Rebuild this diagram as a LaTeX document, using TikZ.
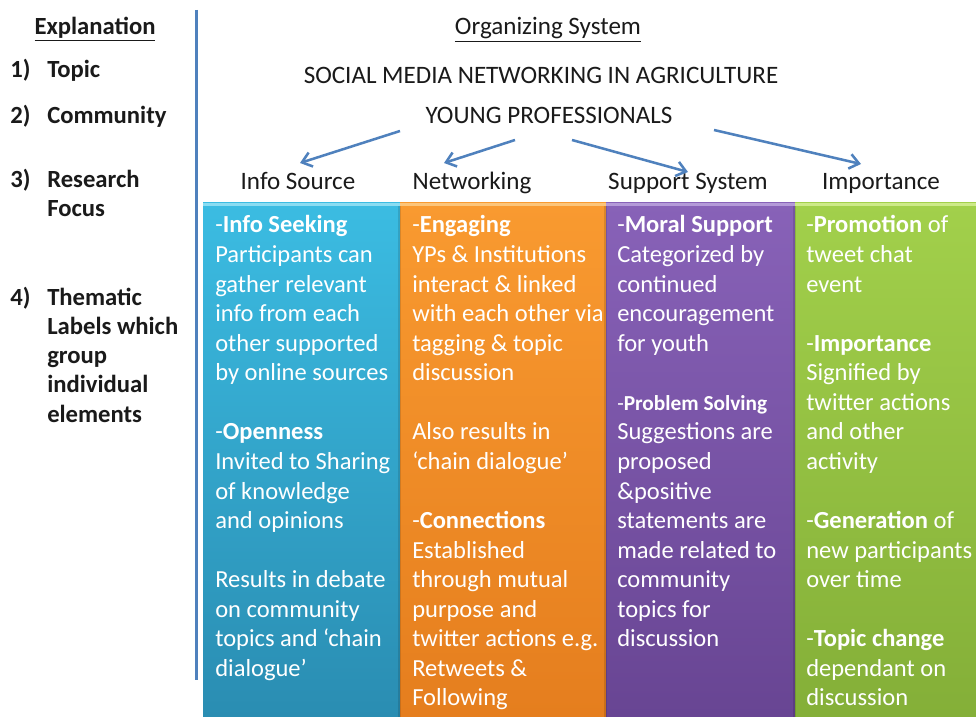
\documentclass[tikz,border=0pt]{standalone}
\usepackage{fontspec}
\setmainfont{Carlito}
\usetikzlibrary{arrows.meta}
\definecolor{lineblue}{HTML}{4F81BD}
\definecolor{txt}{HTML}{1A1A1A}
\definecolor{bluetop}{HTML}{3BBCE2}
\definecolor{bluebot}{HTML}{2A8DB2}
\definecolor{bluehi}{HTML}{8ADCF2}
\definecolor{orgtop}{HTML}{F99A30}
\definecolor{orgbot}{HTML}{E57E1E}
\definecolor{orghi}{HTML}{FCC57A}
\definecolor{purtop}{HTML}{8862B8}
\definecolor{purbot}{HTML}{684593}
\definecolor{purhi}{HTML}{B49AD8}
\definecolor{grntop}{HTML}{A2D04B}
\definecolor{grnbot}{HTML}{84AF38}
\definecolor{grnhi}{HTML}{CDEA88}
\newcommand{\colfont}{\fontsize{18.4}{22.17}\selectfont}
\newcommand{\hdfont}{\fontsize{18.8}{22}\selectfont}
\newcommand{\lfont}{\fontsize{18.5}{22}\selectfont}
\tikzset{
  coltext/.style={anchor=base west, inner sep=0pt, text=white, font=\colfont},
  hdr/.style={anchor=base, inner sep=0pt, text=txt, font=\hdfont},
  lefttxt/.style={anchor=base west, inner sep=0pt, text=txt, font=\lfont\bfseries},
  arr/.style={draw=lineblue, line width=1.9pt, -{Straight Barb[length=7pt,width=11pt,line width=1.9pt]}},
}
\begin{document}
\begin{tikzpicture}[x=0.75pt,y=-0.75pt]
\useasboundingbox (0,0) rectangle (976,717);
\fill[white] (0,0) rectangle (976,717);
% columns
\shade[top color=bluetop,bottom color=bluebot] (203,203) rectangle (400,717);
\shade[top color=orgtop,bottom color=orgbot] (400,203) rectangle (606,717);
\shade[top color=purtop,bottom color=purbot] (606,203) rectangle (795,717);
\shade[top color=grntop,bottom color=grnbot] (795,203) rectangle (976,717);
\fill[bluehi] (203,203) rectangle (400,206);
\fill[orghi] (400,203) rectangle (606,206);
\fill[purhi] (606,203) rectangle (795,206);
\fill[grnhi] (795,203) rectangle (976,206);
\fill[black,opacity=0.12] (398,206) rectangle (401,717);
\fill[black,opacity=0.12] (604,206) rectangle (607,717);
\fill[black,opacity=0.12] (793,206) rectangle (796,717);
% divider
\draw[lineblue,line width=2.25pt] (196,10) -- (196,680);
% left explanation
\node[hdr,font=\lfont\bfseries] (expl) at (95,35) {\underline{Explanation}};
\node[lefttxt] (n1) at (10,78) {1)};
\node[lefttxt] (t1) at (47,78) {Topic};
\node[lefttxt] (n2) at (10,123) {2)};
\node[lefttxt] (t2) at (47,123) {Community};
\node[lefttxt] (n3) at (10,187) {3)};
\node[lefttxt] (t3) at (47,187) {\parbox[t]{150pt}{\raggedright\lfont Research\\Focus}};
\node[lefttxt] (n4) at (10,305) {4)};
\node[lefttxt] (t4) at (47,305) {\parbox[t]{150pt}{\raggedright\lfont Thematic\\Labels which\\group\\individual\\elements}};
% top
\node[hdr] (org) at (548,35) {\underline{Organizing System}};
\node[hdr] (smn) at (541,84) {SOCIAL MEDIA NETWORKING IN AGRICULTURE};
\node[hdr] (yp) at (549,124) {YOUNG PROFESSIONALS};
\node[hdr] (h1) at (298,190) {Info Source};
\node[hdr] (h2) at (472,190) {Networking};
\node[hdr] (h3) at (688,190) {Support System};
\node[hdr] (h4) at (881,190) {Importance};
% arrows
\coordinate (a1s) at (400,131); \coordinate (a1e) at (300,163);
\coordinate (a2s) at (515,140); \coordinate (a2e) at (444,163);
\coordinate (a3s) at (572,140); \coordinate (a3e) at (688,172);
\coordinate (a4s) at (714,130); \coordinate (a4e) at (861,164);
\draw[arr] (a1s) -- (a1e);
\draw[arr] (a2s) -- (a2e);
\draw[arr] (a3s) -- (a3e);
\draw[arr] (a4s) -- (a4e);
% column texts
\node[coltext] (c1) at (215,233) {\parbox[t]{185pt}{\raggedright\colfont
-\textbf{Info Seeking}\\
Participants can\\
gather relevant\\
info from each\\
other supported\\
by online sources\\
\mbox{}\\
-\textbf{Openness}\\
Invited to Sharing\\
of knowledge\\
and opinions\\
\mbox{}\\
Results in debate\\
on community\\
topics and ‘chain\\
dialogue’}};
\node[coltext] (c2) at (412,233) {\parbox[t]{190pt}{\raggedright\colfont
-\textbf{Engaging}\\
YPs \& Institutions\\
interact \& linked\\
with each other via\\
tagging \& topic\\
discussion\\
\mbox{}\\
Also results in\\
‘chain dialogue’\\
\mbox{}\\
-\textbf{Connections}\\
Established\\
through mutual\\
purpose and\\
twitter actions e.g.\\
Retweets \&\\
Following}};
\node[coltext] (c3) at (617,233) {\parbox[t]{180pt}{\raggedright\colfont
-\textbf{Moral Support}\\
Categorized by\\
continued\\
encouragement\\
for youth\\
\mbox{}\\
{\fontsize{16}{22.17}\selectfont -\textbf{Problem Solving}}\\
Suggestions are\\
proposed\\
\&positive\\
statements are\\
made related to\\
community\\
topics for\\
discussion}};
\node[coltext] (c4) at (806,233) {\parbox[t]{170pt}{\raggedright\colfont
-\textbf{Promotion} of\\
tweet chat\\
event\\
\mbox{}\\
-\textbf{Importance}\\
Signified by\\
twitter actions\\
and other\\
activity\\
\mbox{}\\
-\textbf{Generation} of\\
new participants\\
over time\\
\mbox{}\\
-\textbf{Topic change}\\
dependant on\\
discussion}};
\end{tikzpicture}
\end{document}
